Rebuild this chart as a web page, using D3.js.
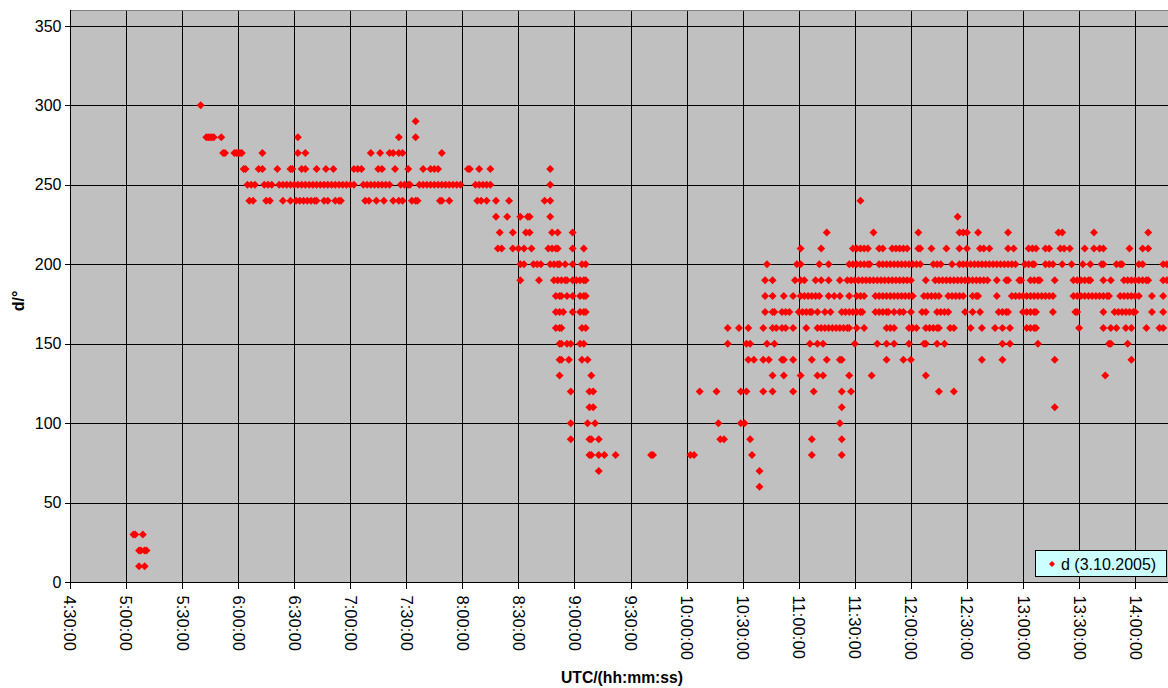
<!DOCTYPE html>
<html>
<head>
<meta charset="utf-8">
<script src="https://cdn.jsdelivr.net/npm/d3@7"></script>
<style>
  html, body { margin: 0; padding: 0; background: #fff; }
  svg { display: block; font-family: "Liberation Sans", Arial, sans-serif; }
</style>
</head>
<body>
<svg id="chart" width="1168" height="688"></svg>
<script>
// Wind direction d (degrees) on 3.10.2005, grouped by reported direction -> UTC sample times
const dir300 = ["5:40"];
const dir290 = ["7:35"];
const dir280 = ["5:43","5:44","5:45","5:46","5:47","5:51","6:32","7:26","7:35"];
const dir270 = ["5:52","5:53","5:58","5:59","6:00","6:01","6:02","6:13","6:32","6:36","7:11","7:16","7:21","7:23","7:26","7:28","7:49"];
const dir260 = ["6:03","6:04","6:11","6:13","6:21","6:28","6:29","6:34","6:36","6:42","6:47","6:51","7:02","7:04","7:06","7:15","7:17","7:24","7:31","7:39","7:43","7:45","7:47","8:03","8:04","8:09","8:15","8:47"];
const dir250 = ["6:05","6:07","6:09","6:14","6:16","6:18","6:22","6:24","6:26","6:28","6:30","6:32","6:34","6:36","6:38","6:40","6:42","6:44","6:46","6:48","6:50","6:52","6:54","6:56","6:58","7:00","7:02","7:07","7:09","7:11","7:13","7:15","7:17","7:19","7:21","7:27","7:29","7:31","7:32","7:37","7:39","7:41","7:43","7:45","7:47","7:49","7:51","7:53","7:55","7:57","7:59","8:07","8:09","8:11","8:13","8:15","8:47"];
const dir240 = ["6:06","6:08","6:15","6:17","6:24","6:28","6:31","6:33","6:35","6:37","6:39","6:41","6:42","6:46","6:48","6:52","6:54","6:55","7:08","7:10","7:14","7:18","7:23","7:26","7:28","7:33","7:35","7:36","7:48","7:49","7:53","8:08","8:10","8:13","8:18","8:25","8:44","8:47","11:33"];
const dir230 = ["8:18","8:24","8:31","8:35","8:36","8:47","12:25"];
const dir220 = ["8:20","8:27","8:34","8:36","8:48","8:51","8:59","11:15","11:40","12:04","12:26","12:28","12:30","12:36","12:52","13:19","13:21","13:38","14:07"];
const dir210 = ["8:19","8:21","8:27","8:30","8:33","8:37","8:46","8:48","8:50","8:51","8:59","9:05","11:01","11:12","11:29","11:31","11:33","11:35","11:37","11:43","11:45","11:50","11:52","11:54","11:56","11:58","12:04","12:05","12:11","12:19","12:26","12:30","12:37","12:39","12:42","12:52","12:55","13:03","13:05","13:07","13:12","13:14","13:20","13:22","13:25","13:33","13:38","13:41","13:43","13:57","14:04","14:07"];
const dir200 = ["8:31","8:33","8:38","8:40","8:42","8:47","8:49","8:51","8:52","8:55","8:59","9:04","9:06","10:43","10:59","11:01","11:11","11:16","11:27","11:29","11:31","11:33","11:35","11:37","11:38","11:43","11:45","11:47","11:49","11:51","11:53","11:55","11:57","11:59","12:01","12:03","12:05","12:12","12:14","12:16","12:22","12:26","12:28","12:30","12:32","12:34","12:36","12:38","12:40","12:42","12:44","12:46","12:48","12:50","12:52","12:54","12:56","13:01","13:03","13:05","13:06","13:12","13:14","13:16","13:21","13:26","13:32","13:36","13:42","13:43","13:50","13:52","13:53","14:02","14:04","14:15","14:17"];
const dir190 = ["8:31","8:41","8:49","8:51","8:53","8:55","8:56","8:59","9:01","9:03","9:05","9:06","10:42","10:46","10:58","11:01","11:03","11:09","11:12","11:16","11:22","11:26","11:28","11:30","11:32","11:34","11:36","11:38","11:40","11:42","11:44","11:46","11:48","11:50","11:52","11:54","11:56","11:58","12:00","12:08","12:13","12:15","12:17","12:19","12:21","12:23","12:25","12:27","12:29","12:31","12:33","12:35","12:37","12:39","12:41","12:46","12:51","12:52","12:58","12:59","13:04","13:06","13:08","13:09","13:17","13:27","13:29","13:31","13:33","13:35","13:36","13:43","13:47","13:54","13:56","13:58","14:00","14:02","14:04","14:06","14:07","14:15","14:17"];
const dir180 = ["8:50","8:52","8:53","8:56","8:59","9:03","9:05","9:06","10:42","10:46","10:52","10:57","11:01","11:03","11:05","11:07","11:09","11:11","11:16","11:19","11:22","11:27","11:31","11:33","11:35","11:41","11:43","11:45","11:47","11:49","11:51","11:53","11:55","11:57","11:59","12:01","12:07","12:09","12:11","12:13","12:15","12:20","12:22","12:24","12:26","12:28","12:33","12:35","12:36","12:46","12:54","12:56","12:58","13:00","13:02","13:04","13:06","13:08","13:10","13:12","13:14","13:16","13:27","13:29","13:31","13:33","13:35","13:37","13:39","13:41","13:43","13:45","13:46","13:52","13:54","13:56","13:58","14:00","14:02","14:09","14:15"];
const dir170 = ["8:50","8:52","8:54","8:59","9:03","9:05","9:06","10:42","10:46","10:47","10:51","10:53","10:55","11:00","11:02","11:04","11:06","11:07","11:10","11:14","11:17","11:23","11:25","11:27","11:29","11:31","11:33","11:34","11:41","11:43","11:45","11:47","11:48","11:51","11:54","11:56","12:00","12:06","12:08","12:14","12:16","12:18","12:20","12:29","12:33","12:37","12:47","12:49","12:51","12:52","13:00","13:02","13:04","13:06","13:07","13:16","13:28","13:29","13:43","13:49","13:51","13:53","13:55","13:57","13:59","14:00","14:09","14:15"];
const dir160 = ["8:50","8:52","8:53","9:04","9:06","10:22","10:28","10:33","10:41","10:46","10:48","10:51","10:53","10:57","11:04","11:10","11:12","11:14","11:16","11:18","11:20","11:22","11:24","11:26","11:27","11:31","11:35","11:47","11:49","11:51","11:59","12:01","12:03","12:08","12:10","12:12","12:14","12:15","12:21","12:23","12:32","12:38","12:45","12:49","12:53","13:02","13:04","13:06","13:07","13:30","13:43","13:47","13:50","13:55","13:58","14:06","14:13","14:15"];
const dir150 = ["8:52","8:53","8:56","8:58","9:03","9:05","10:22","10:32","10:34","10:43","10:47","11:06","11:10","11:13","11:30","11:42","11:47","11:51","11:59","12:07","12:08","12:14","12:18","12:49","12:53","13:08","13:46","13:47","13:56"];
const dir140 = ["8:52","8:53","8:57","9:04","9:07","10:33","10:36","10:41","10:44","10:51","10:52","10:57","11:07","11:15","11:22","11:23","11:47","11:56","12:00","12:38","12:49","13:17","13:58"];
const dir130 = ["8:52","9:09","10:46","10:52","11:01","11:10","11:13","11:27","11:39","12:08","13:44"];
const dir120 = ["8:58","9:08","9:10","10:07","10:16","10:29","10:32","10:41","10:46","10:57","11:08","11:23","11:28","12:15","12:23"];
const dir110 = ["9:08","9:10","11:23","13:17"];
const dir100 = ["8:58","9:07","9:11","10:17","10:29","10:31","11:22"];
const dir90  = ["8:58","9:08","9:09","9:13","10:18","10:20","10:34","11:07","11:23"];
const dir80  = ["9:08","9:09","9:13","9:16","9:22","9:41","9:42","10:02","10:04","10:35","11:07","11:23"];
const dir70  = ["9:13","10:39"];
const dir60  = ["10:39"];
const dir30  = ["5:04","5:05","5:09"];
const dir20  = ["5:07","5:08","5:10","5:11"];
const dir10  = ["5:07","5:10"];

const xTickLabels = ["4:30:00","5:00:00","5:30:00","6:00:00","6:30:00","7:00:00","7:30:00","8:00:00",
  "8:30:00","9:00:00","9:30:00","10:00:00","10:30:00","11:00:00","11:30:00","12:00:00","12:30:00",
  "13:00:00","13:30:00","14:00:00"];
const timeRange = ["4:30:00", "14:30:00"];
const yTickValues = [0, 50, 100, 150, 200, 250, 300, 350];
const seriesName = "d (3.10.2005)";

// "H:MM[:SS]" -> minutes after midnight
const toMin = s => { const p = s.split(":").map(Number); return p[0] * 60 + p[1] + (p[2] || 0) / 60; };

const groups = [
  [300, dir300], [290, dir290], [280, dir280], [270, dir270], [260, dir260], [250, dir250],
  [240, dir240], [230, dir230], [220, dir220], [210, dir210], [200, dir200], [190, dir190],
  [180, dir180], [170, dir170], [160, dir160], [150, dir150], [140, dir140], [130, dir130],
  [120, dir120], [110, dir110], [100, dir100], [90, dir90], [80, dir80], [70, dir70],
  [60, dir60], [30, dir30], [20, dir20], [10, dir10]
];
const points = groups.flatMap(([d, times]) => times.map(t => ({ t: toMin(t), d })));

const svg = d3.select("#chart");
const plotLeft = 69.9, plotTop = 10, plotBottom = 582.2, plotRight = 1191.2;

const x = d3.scaleLinear().domain(timeRange.map(toMin)).range([plotLeft, plotRight]);
const y = d3.scaleLinear().domain([0, 360]).range([plotBottom, plotTop]);

const xTicks = xTickLabels.map(toMin);
const snap = v => Math.round(v) + 0.5;

// plot area
svg.append("rect")
  .attr("x", plotLeft).attr("y", plotTop)
  .attr("width", plotRight - plotLeft).attr("height", plotBottom - plotTop)
  .attr("fill", "#c0c0c0");

// gridlines
const grid = svg.append("g").attr("shape-rendering", "crispEdges");
grid.selectAll("line.h").data(yTickValues.filter(v => v > 0)).join("line")
  .attr("class", "h")
  .attr("x1", plotLeft).attr("x2", plotRight)
  .attr("y1", d => snap(y(d))).attr("y2", d => snap(y(d)))
  .attr("stroke", "#000").attr("stroke-width", 1);
grid.selectAll("line.v").data(xTicks.slice(1)).join("line")
  .attr("class", "v")
  .attr("x1", d => snap(x(d))).attr("x2", d => snap(x(d)))
  .attr("y1", plotTop).attr("y2", plotBottom)
  .attr("stroke", "#000").attr("stroke-width", 1);
// plot frame top
grid.append("line")
  .attr("x1", plotLeft).attr("x2", plotRight)
  .attr("y1", snap(plotTop)).attr("y2", snap(plotTop))
  .attr("stroke", "#808080");

// axes
const yAxis = svg.append("g")
  .attr("transform", `translate(${snap(plotLeft)},0)`)
  .call(d3.axisLeft(y).tickValues(yTickValues).tickSize(6).tickPadding(3));
const xAxis = svg.append("g")
  .attr("transform", `translate(0,${snap(plotBottom)})`)
  .call(d3.axisBottom(x).tickValues(xTicks).tickFormat((d, i) => xTickLabels[i]).tickSize(6));

[yAxis, xAxis].forEach(ax => {
  ax.attr("shape-rendering", "crispEdges");
  ax.selectAll(".domain").attr("stroke", "#000");
  ax.selectAll(".tick line").attr("stroke", "#000");
  ax.selectAll("text").attr("font-family", "'Liberation Sans', Arial, sans-serif")
    .attr("font-size", 16).attr("fill", "#000");
});
yAxis.select(".domain").attr("d", `M0,${plotTop}V${plotBottom}`);
xAxis.select(".domain").attr("d", `M${plotLeft},0H${plotRight}`);
xAxis.selectAll(".tick text")
  .attr("transform", "rotate(90)")
  .attr("text-anchor", "start")
  .attr("x", 13).attr("y", 0).attr("dy", "0.36em")
  .attr("font-size", 16.6);

// markers
const diamond = r => `M0,${-r}L${r},0L0,${r}L${-r},0Z`;
svg.append("g")
  .selectAll("path").data(points).join("path")
  .attr("transform", p => `translate(${x(p.t)},${y(p.d)})`)
  .attr("d", diamond(4))
  .attr("fill", "#ff0000");

// axis titles
svg.append("text")
  .attr("x", 622).attr("y", 683)
  .attr("text-anchor", "middle")
  .attr("font-size", 15.7).attr("font-weight", "bold")
  .text("UTC/(hh:mm:ss)");
svg.append("text")
  .attr("transform", "translate(24,301) rotate(-90)")
  .attr("text-anchor", "middle")
  .attr("font-size", 16).attr("font-weight", "bold")
  .text("d/°");

// legend
const lg = svg.append("g").attr("transform", "translate(1035,550)");
lg.append("rect").attr("x", 0.5).attr("y", 0.5).attr("width", 131).attr("height", 26)
  .attr("fill", "#ccffff").attr("stroke", "#000").attr("shape-rendering", "crispEdges");
lg.append("path").attr("transform", "translate(17,14)").attr("d", diamond(3)).attr("fill", "#ff0000");
lg.append("text").attr("x", 26).attr("y", 19.5).attr("font-size", 16).text(seriesName);
</script>
</body>
</html>
